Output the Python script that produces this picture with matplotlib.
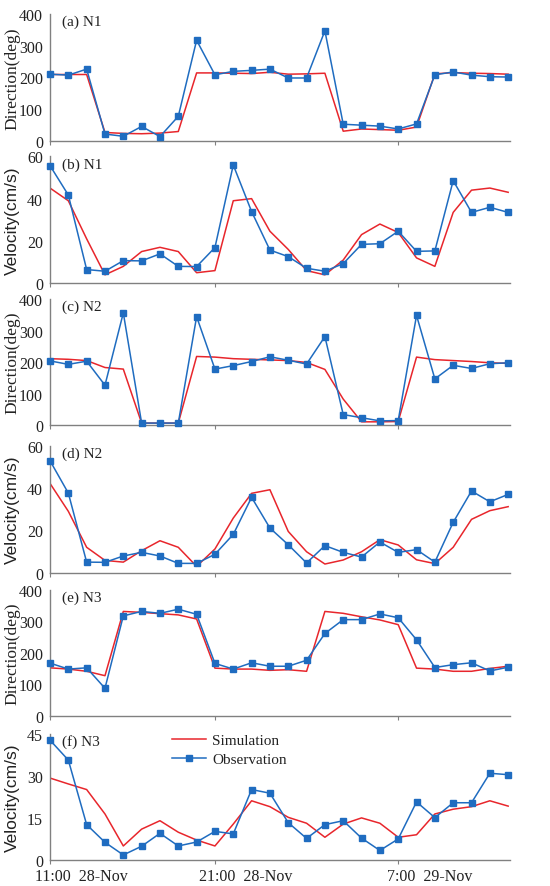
import matplotlib
matplotlib.use("Agg")
import matplotlib.pyplot as plt
from matplotlib.transforms import ScaledTranslation

# hourly samples, index 0 = 11:00 28-Nov
hours = list(range(26))

dir_n1_obs = [210, 207, 226, 21, 14, 45, 13, 77, 317, 208, 219, 222, 226, 198, 198, 347,
              52, 49, 46, 37, 53, 208, 217, 207, 202, 201]
dir_n1_sim = [209, 209, 209, 26, 23, 22, 24, 29, 214, 214, 213, 212, 216, 210, 211, 213,
              30, 37, 35, 33, 43, 211, 215, 213, 212, 210]

vel_n1_obs = [55.6, 41.7, 6.5, 5.7, 10.7, 10.6, 13.9, 8.0, 7.9, 16.9, 55.9, 33.9, 15.7, 12.6,
              7.1, 5.7, 9.3, 18.4, 18.7, 24.6, 15.1, 15.3, 48.5, 33.5, 35.9, 33.5]
vel_n1_sim = [45, 39, 21, 4, 8, 15, 17, 15, 5, 6, 39, 40, 24.6, 16, 6, 4, 11, 23, 28, 24,
              12, 8, 33.5, 44, 45, 43]

dir_n2_obs = [204, 193, 203, 127, 356, 7, 7, 7, 344, 178, 189, 202, 217, 206, 194, 281,
              34, 24, 14, 15, 348, 147, 190, 180, 195, 198]
dir_n2_sim = [211, 209, 205, 183, 178, 7, 7, 7, 218, 216, 211, 209, 207, 205, 199, 177,
              83, 11, 11, 12, 216, 208, 205, 202, 198, 196]

vel_n2_obs = [52.9, 37.6, 5.0, 4.9, 7.9, 9.6, 7.9, 4.4, 4.4, 8.7, 18.1, 35.6, 21.1, 13.2,
              4.6, 12.8, 9.6, 7.4, 14.5, 9.6, 10.9, 5.0, 23.8, 38.6, 33.5, 37.0]
vel_n2_sim = [42.2, 29, 12, 5.8, 5, 10.4, 15.1, 12, 3, 11.2, 25.8, 37.5, 39.2, 19.5, 9.9,
              4.1, 6, 9.9, 15.6, 13.1, 6.1, 4.3, 12, 25.2, 29.3, 31.2]

dir_n3_obs = [167, 148, 152, 87, 317, 331, 325, 338, 322, 166, 148, 168, 157, 157, 176, 261,
              305, 305, 323, 311, 241, 153, 162, 168, 142, 154]
dir_n3_sim = [152, 148, 141, 127, 331, 328, 324, 320, 307, 151, 148, 148, 144, 146, 141, 331,
              325, 314, 304, 289, 151, 148, 141, 141, 150, 157]

vel_n3_obs = [42.7, 35.6, 12.6, 6.3, 1.8, 4.9, 9.5, 5.0, 6.4, 10.2, 9.3, 25.1, 23.8, 13.3,
              7.7, 12.6, 14.0, 7.8, 3.4, 7.5, 20.7, 15.1, 20.4, 20.4, 30.9, 30.4]
vel_n3_sim = [29.2, 27.1, 25.1, 16.4, 5.0, 11, 14.0, 9.9, 7.1, 5.0, 12.8, 21.1, 19.0, 15.2,
              13.1, 8.1, 12.8, 15.0, 13.1, 8.1, 9.0, 16.4, 18.1, 19.0, 21.1, 19.2]

tick_pos = [0, 9, 19]
tick_labels = ["11:00  28-Nov", "21:00  28-Nov", "7:00  29-Nov"]

panels = [
    ("(a) N1", dir_n1_obs, dir_n1_sim, "Direction(deg)", [0, 100, 200, 300, 400]),
    ("(b) N1", vel_n1_obs, vel_n1_sim, "Velocity(cm/s)", [0, 20, 40, 60]),
    ("(c) N2", dir_n2_obs, dir_n2_sim, "Direction(deg)", [0, 100, 200, 300, 400]),
    ("(d) N2", vel_n2_obs, vel_n2_sim, "Velocity(cm/s)", [0, 20, 40, 60]),
    ("(e) N3", dir_n3_obs, dir_n3_sim, "Direction(deg)", [0, 100, 200, 300, 400]),
    ("(f) N3", vel_n3_obs, vel_n3_sim, "Velocity(cm/s)", [0, 15, 30, 45]),
]

# axes boxes in pixels (top, bottom) measured on the 550x887 canvas
boxes = [(15, 141.7), (157.3, 284.3), (300, 426.3), (446.7, 573.7), (590.7, 716.7), (734.7, 861)]

BLUE = "#1f6cc0"
RED = "#e8262c"
GREY = "#808080"
SERIF = "Liberation Serif"
SANS = "Liberation Sans"

W, H = 550, 887
fig = plt.figure(figsize=(W / 100, H / 100), dpi=100)

for (label, obs, sim, ylab, yticks), (top, bottom) in zip(panels, boxes):
    ax = fig.add_axes([50 / W, 1 - bottom / H, 460 / W, (bottom - top) / H])
    ax.plot(hours, sim, color=RED, lw=1.1, label="Simulation", zorder=2)
    ax.plot(hours, obs, color=BLUE, lw=1.1, marker="s", ms=4.6, label="Observation",
            clip_on=False, zorder=3)

    ax.set_xlim(0, 25.1)
    ax.set_ylim(yticks[0], yticks[-1])
    ax.set_yticks(yticks)
    ax.set_xticks(tick_pos)
    for s in ("top", "right"):
        ax.spines[s].set_visible(False)
    for s in ("left", "bottom"):
        ax.spines[s].set_color(GREY)
        ax.spines[s].set_linewidth(1)
    ax.tick_params(axis="y", length=0, pad=5, labelsize=11.5, labelcolor="#222222")
    ax.tick_params(axis="x", length=3, direction="out", color=GREY, pad=3,
                   labelsize=11.5, labelcolor="#222222")
    for t in ax.get_yticklabels():
        t.set_family(SERIF)

    family = SERIF if ylab.startswith("Direction") else SANS
    ax.set_ylabel(ylab, fontsize=12.5, family=family, color="#222222", va="center")
    ax.yaxis.set_label_coords(-0.081, 0.5)

    ax.text(0.027, 0.94, label, transform=ax.transAxes, fontsize=11, family=SERIF,
            va="center", ha="left", color="#222222")

    if label.startswith("(f)"):
        ax.set_xticklabels(tick_labels, family=SERIF)
        shift = ScaledTranslation(0.31, 0, fig.dpi_scale_trans)
        for t in ax.get_xticklabels():
            t.set_transform(t.get_transform() + shift)
        leg = ax.legend(loc="upper left", bbox_to_anchor=(0.236, 1.11), frameon=False,
                        prop={"family": SERIF, "size": 11}, handlelength=2.2,
                        handletextpad=0.4, labelspacing=0.35)
        for txt in leg.get_texts():
            txt.set_color("#222222")
    else:
        ax.set_xticklabels([])

fig.savefig("out.png", dpi=100)
